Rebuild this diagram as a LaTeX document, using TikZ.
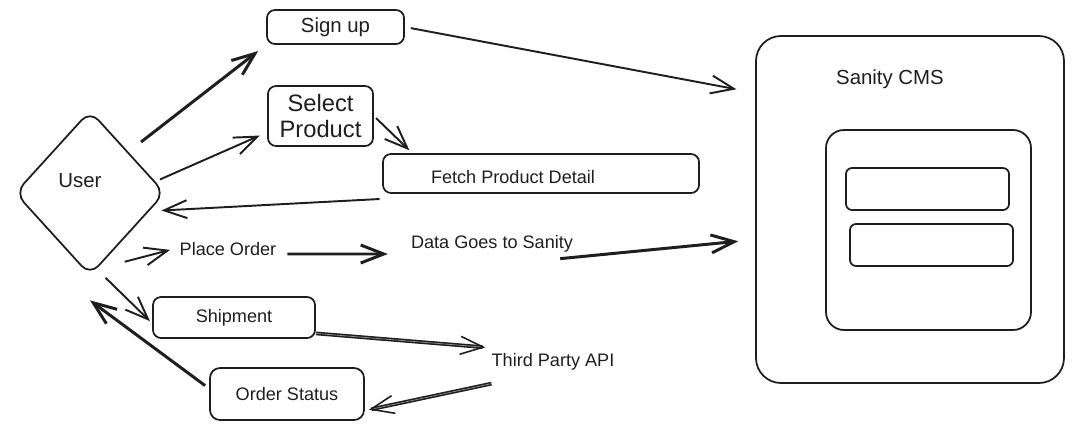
\documentclass[tikz,border=0pt]{standalone}
\usepackage{fontspec}
\setmainfont{Liberation Sans}
\usetikzlibrary{shapes.geometric, arrows.meta}
\definecolor{ink}{HTML}{1E1E1E}

\begin{document}
\begin{tikzpicture}[x=0.2mm, y=-0.2mm, color=ink,
    box/.style={draw, line width=1pt, rounded corners=1.6mm, inner sep=0pt},
    small/.style={font=\fontsize{10.3}{12}\selectfont},
    big/.style={font=\fontsize{11.6}{14}\selectfont},
    flow/.style={-{Straight Barb[length=4.6mm, width=3.6mm]}, line width=1.1pt},
    heavy/.style={flow, line width=1.7pt},
    twin/.style={flow, double=ink!45, double distance=0.35pt, line width=0.9pt}]
    \useasboundingbox (0,0) rectangle (1075,432);

    \node[draw, diamond, line width=1pt, rounded corners=2.5mm, minimum width=30mm, minimum height=33mm,
        label={[big, xshift=-2mm, yshift=2.4mm]center:User}] (user) at (90,193) {};
    \node[box, big, minimum width=27.4mm, minimum height=6.8mm] (signup) at (335.5,27) {Sign up};
    \node[box, align=center, font=\fontsize{13.5}{14.5}\selectfont, minimum width=21mm, minimum height=12mm] (select) at (320.5,116) {Select\\Product};
    \node[box, minimum width=63.2mm, minimum height=7.8mm,
        label={[small, xshift=-5.6mm, yshift=-0.7mm]center:Fetch Product Detail}] (fetch) at (541,173.5) {};
    \node[small] (order) at (228,249) {Place Order};
    \node[small] (togo) at (492,244) {Data Goes to Sanity};
    \node[box, small, minimum width=32.4mm, minimum height=8.2mm] (ship) at (234,317.5) {Shipment};
    \node[small] (api) at (553,362) {Third Party API};
    \node[box, small, rounded corners=2mm, minimum width=30.8mm, minimum height=10.4mm] (status) at (287,394) {Order Status};

    % sanity side
    \node[box, rounded corners=5mm, minimum width=61.6mm, minimum height=69.4mm] (cms) at (910,209.5) {};
    \node[big] (cmsname) at (890,79) {Sanity CMS};
    \node[box, rounded corners=3.6mm, minimum width=41mm, minimum height=40mm] (schema) at (928.5,230) {};
    \node[box, rounded corners=1.2mm, minimum width=32.6mm, minimum height=8.4mm] (field1) at (927.5,189) {};
    \node[box, rounded corners=1.2mm, minimum width=32.6mm, minimum height=8.4mm] (field2) at (931.5,245) {};

    \draw[heavy, shorten <=3.2mm, shorten >=2mm] (user.47) -- (signup.south west);
    \draw[flow, shorten <=1mm, shorten >=1.6mm] (user.10) -- (select.197);
    \draw[flow, shorten <=1.2mm, shorten >=3.8mm] (signup.east) -- (cms.143);
    \draw[flow, shorten <=0.6mm, shorten >=0.8mm] (select.east) -- (fetch.171);
    \draw[flow, shorten <=0.5mm, shorten >=2.4mm] ([yshift=-1mm]fetch.south west) -- (user.343);
    \draw[flow, shorten <=5.8mm, shorten >=0.7mm] (user.275) -- (order.west);
    \draw[heavy, shorten <=1mm, shorten >=3.4mm] ([yshift=-1mm]order.east) -- ([yshift=-2mm]togo.west);
    \draw[heavy, shorten >=3.4mm] ([xshift=-3.8mm]togo.south east) -- (cms.191);
    \draw[flow, shorten <=2.5mm, shorten >=0.6mm] (user.275) -- (ship.184);
    \draw[twin] (ship.349) -- (api.north west);
    \draw[twin, shorten >=0.8mm] ([shift={(1.2mm,-1.4mm)}]api.south west) -- (status.348);
    \draw[heavy, shorten <=1mm] (status.176) -- ([yshift=-4.8mm]user.south);
\end{tikzpicture}
\end{document}
